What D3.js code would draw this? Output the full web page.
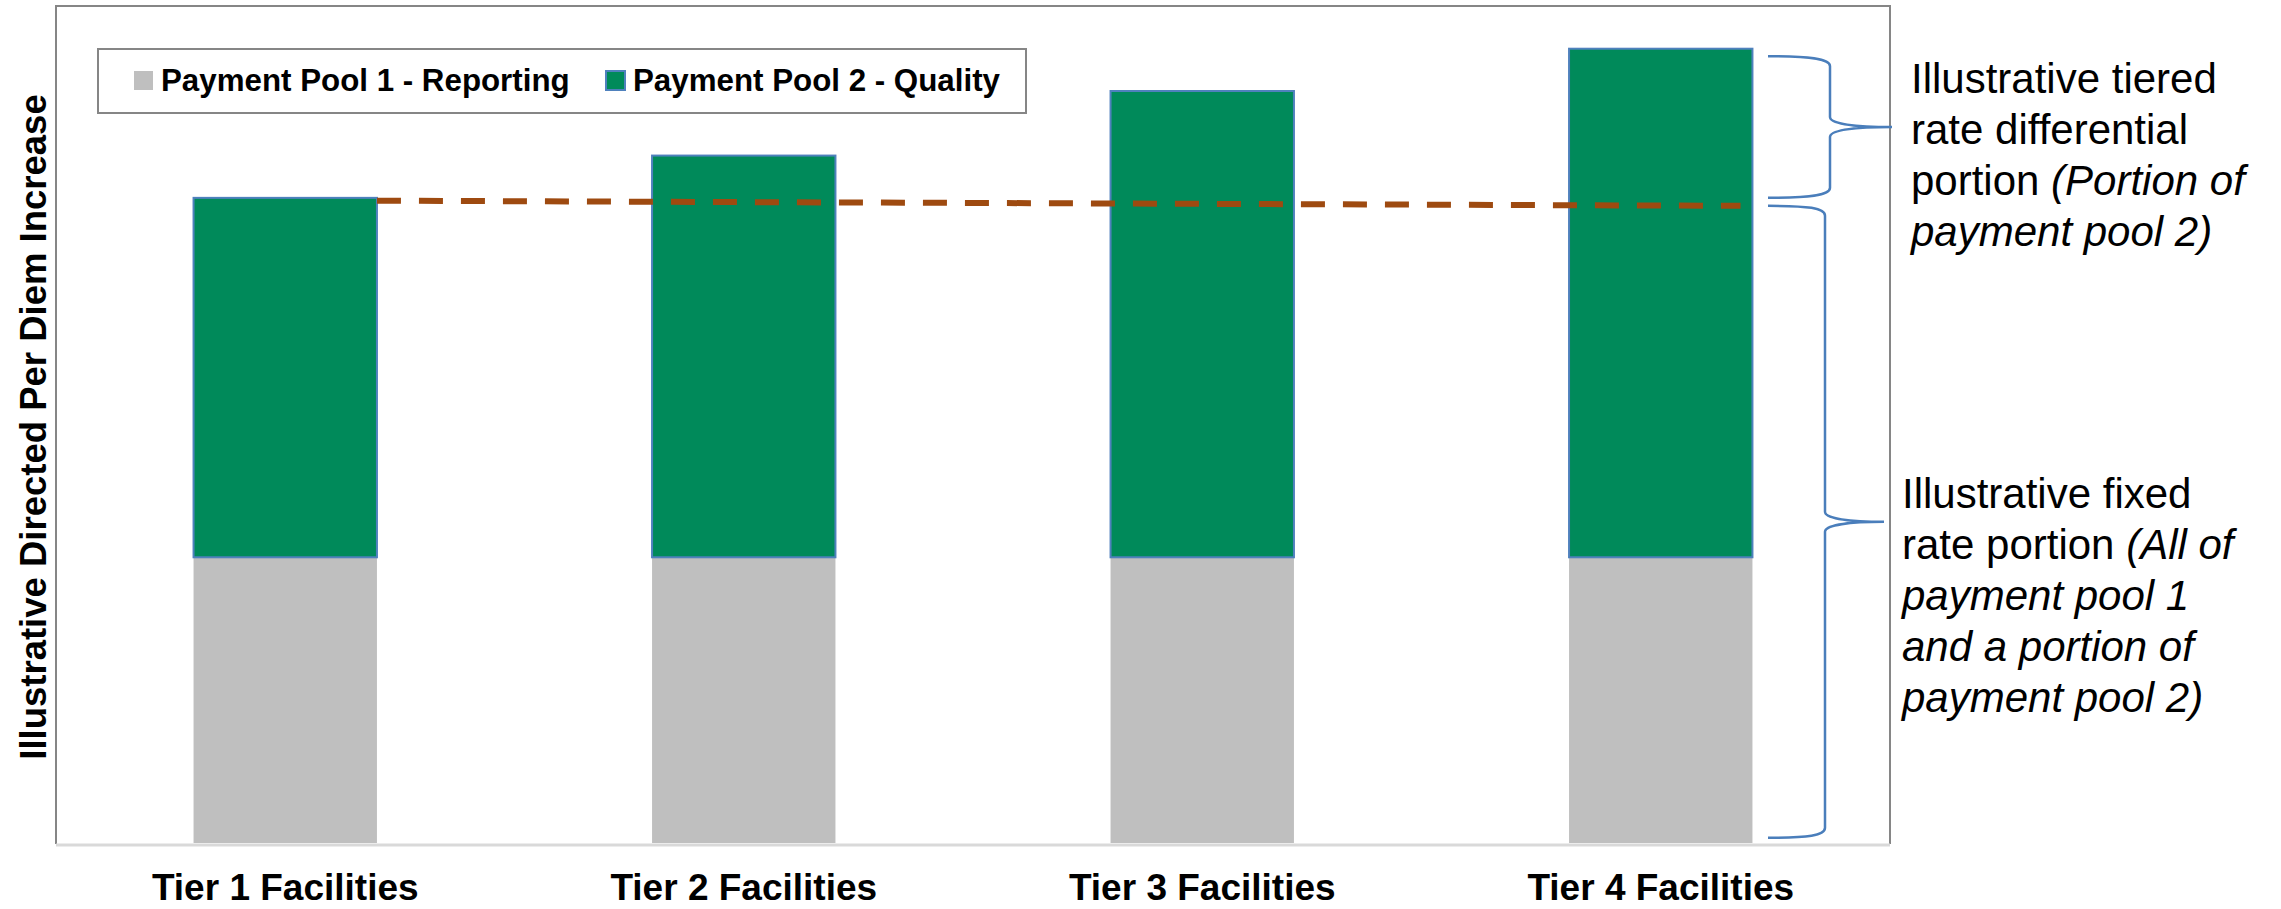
<!DOCTYPE html>
<html>
<head>
<meta charset="utf-8">
<script src="https://cdn.jsdelivr.net/npm/d3@7"></script>
<style>
  html, body { margin: 0; padding: 0; background: #ffffff; }
  svg { display: block; }
  text { font-family: "Liberation Sans", Arial, sans-serif; fill: #000; }
</style>
</head>
<body>
<svg id="chart" width="2281" height="909"></svg>
<script>
// ---------- data ----------
const categories = ["Tier 1 Facilities", "Tier 2 Facilities", "Tier 3 Facilities", "Tier 4 Facilities"];
const seriesNames = ["Payment Pool 1 - Reporting", "Payment Pool 2 - Quality"];
const pool1Values = [50, 50, 50, 50];
const pool2Values = [62.9, 70.3, 81.6, 89.0];
// dashed threshold line (start at Tier 1, end at Tier 4)
const thresholdValues = [112.4, 111.5];
// brace ranges (value units)
const upperBrace = [112.9, 137.7];
const lowerBrace = [0.9, 111.5];
const yAxisTitle = "Illustrative Directed Per Diem Increase";
const upperNote = [
  [{t: "Illustrative tiered", i: false}],
  [{t: "rate differential", i: false}],
  [{t: "portion ", i: false}, {t: "(Portion of", i: true}],
  [{t: "payment pool 2)", i: true}]
];
const lowerNote = [
  [{t: "Illustrative fixed", i: false}],
  [{t: "rate portion ", i: false}, {t: "(All of", i: true}],
  [{t: "payment pool 1", i: true}],
  [{t: "and a portion of", i: true}],
  [{t: "payment pool 2)", i: true}]
];

// ---------- layout ----------
const svg = d3.select("#chart");
const plot = {left: 56, right: 1890, top: 6, bottom: 844};
const colors = ["#BFBFBF", "#008A5A"];
const barStroke = "#4F81BD";

const x = d3.scaleBand().domain(categories)
  .range([plot.left, plot.right]).paddingInner(0.6).paddingOuter(0.3);
const y = d3.scaleLinear().domain([0, 140]).range([843, 43]);

const table = categories.map((c, i) => ({cat: c, p1: pool1Values[i], p2: pool2Values[i]}));
const stacked = d3.stack().keys(["p1", "p2"])(table);

// frame (plot area border)
svg.append("path")
  .attr("d", `M${plot.left},${plot.bottom} V${plot.top} H${plot.right} V${plot.bottom}`)
  .attr("fill", "none").attr("stroke", "#868686").attr("stroke-width", 2);

// bars
stacked.forEach((s, si) => {
  svg.append("g").selectAll("rect").data(s).join("rect")
    .attr("x", d => x(d.data.cat))
    .attr("y", d => y(d[1]))
    .attr("width", x.bandwidth())
    .attr("height", d => y(d[0]) - y(d[1]))
    .attr("fill", colors[si])
    .attr("stroke", si === 1 ? barStroke : "none")
    .attr("stroke-width", si === 1 ? 2 : 0);
});

// x axis line
svg.append("line")
  .attr("x1", plot.left).attr("x2", plot.right)
  .attr("y1", 845).attr("y2", 845)
  .attr("stroke", "#D9D9D9").attr("stroke-width", 3);

// x tick labels
const xAxis = d3.axisBottom(x).tickSize(0).tickPadding(0);
const gx = svg.append("g").attr("transform", "translate(0,900)").call(xAxis);
gx.select(".domain").remove();
gx.selectAll("text")
  .attr("y", 0).attr("dy", 0)
  .attr("font-size", 37).attr("font-weight", "bold")
  .attr("font-family", '"Liberation Sans", Arial, sans-serif')
  .attr("fill", "#000");

// y axis title
svg.append("text")
  .attr("transform", "translate(46,427) rotate(-90)")
  .attr("text-anchor", "middle")
  .attr("font-size", 36.5).attr("font-weight", "bold")
  .text(yAxisTitle);

// dashed threshold line
const lineX = [x(categories[0]) + x.bandwidth(), x(categories[3]) + x.bandwidth() * 0.935];
svg.append("path")
  .datum(thresholdValues.map((v, i) => [lineX[i], v]))
  .attr("d", d3.line().x(d => d[0]).y(d => y(d[1])))
  .attr("fill", "none").attr("stroke", "#9E4A10")
  .attr("stroke-width", 6).attr("stroke-dasharray", "24,18");

// legend
const lg = svg.append("g");
lg.append("rect").attr("x", 98).attr("y", 49).attr("width", 928).attr("height", 64)
  .attr("fill", "#fff").attr("stroke", "#868686").attr("stroke-width", 2);
const legendX = [134, 606];
seriesNames.forEach((n, i) => {
  lg.append("rect").attr("x", legendX[i]).attr("y", 71).attr("width", 19).attr("height", 19)
    .attr("fill", colors[i])
    .attr("stroke", i === 1 ? barStroke : "none").attr("stroke-width", i === 1 ? 2 : 0);
  lg.append("text").attr("x", legendX[i] + 27).attr("y", 91)
    .attr("font-size", 31.3).attr("font-weight", "bold").text(n);
});

// braces
function brace(xEnd, xSpine, xTip, yTop, yBot) {
  const ym = (yTop + yBot) / 2;
  const r = 10;
  return `M${xEnd},${yTop} C${xEnd + 40},${yTop} ${xSpine},${yTop + 2} ${xSpine},${yTop + r}` +
    ` V${ym - r} C${xSpine},${ym - 3} ${xSpine + 25},${ym} ${xTip},${ym}` +
    ` C${xSpine + 25},${ym} ${xSpine},${ym + 3} ${xSpine},${ym + r}` +
    ` V${yBot - r} C${xSpine},${yBot - 2} ${xEnd + 40},${yBot} ${xEnd},${yBot}`;
}
svg.append("path").attr("d", brace(1768, 1830, 1892, y(upperBrace[1]), y(upperBrace[0])))
  .attr("fill", "none").attr("stroke", "#4A7EBB").attr("stroke-width", 2.5);
svg.append("path").attr("d", brace(1768, 1825, 1884, y(lowerBrace[1]), y(lowerBrace[0])))
  .attr("fill", "none").attr("stroke", "#4A7EBB").attr("stroke-width", 2.5);

// annotation text
function note(lines, x0, y0) {
  lines.forEach((parts, li) => {
    const t = svg.append("text").attr("x", x0).attr("y", y0 + li * 51).attr("font-size", 42);
    parts.forEach(p => t.append("tspan").attr("font-style", p.i ? "italic" : "normal").text(p.t));
  });
}
note(upperNote, 1911, 93);
note(lowerNote, 1902, 508);
</script>
</body>
</html>
